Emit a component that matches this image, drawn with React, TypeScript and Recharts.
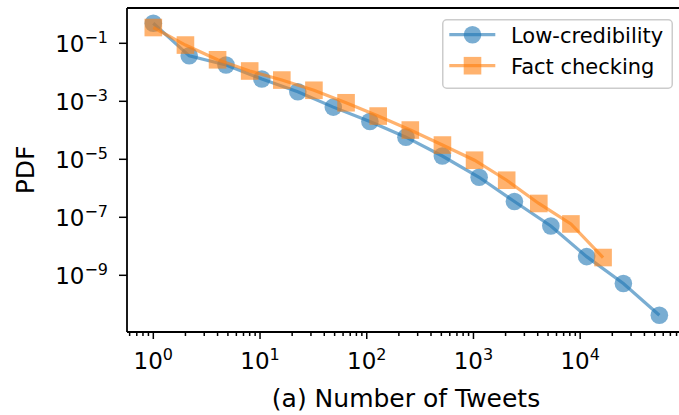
import React from "react";
import { ScatterChart, Scatter, XAxis, YAxis, Legend, ReferenceLine } from "recharts";

// ---- data ----
const lowCredX = [1, 2.17, 4.8, 10.4, 22.6, 48.6, 107, 233, 511, 1130, 2420, 5310, 11500, 25400, 55200];
const lowCredY = [0.49, 0.037, 0.0178, 0.0059, 0.00214, 6.3e-4, 2.0e-4, 5.8e-5, 1.3e-5, 2.4e-6, 3.5e-7, 5.0e-8, 4.4e-9, 5.2e-10, 4.2e-11];
const factX = [1, 2, 4, 8, 16, 32, 64, 128, 256, 512, 1024, 2048, 4096, 8192, 16384];
const factY = [0.35, 0.087, 0.027, 0.0111, 0.0054, 0.0024, 8.9e-4, 3.1e-4, 1.02e-4, 3.1e-5, 9.3e-6, 1.9e-6, 3.0e-7, 5.9e-8, 4.1e-9];

const seriesNames = ["Low-credibility", "Fact checking"];
const xMajorTicks = [1, 10, 100, 1000, 10000];
const xMinorTicks = [
  0.6, 0.7, 0.8, 0.9,
  2, 3, 4, 5, 6, 7, 8, 9,
  20, 30, 40, 50, 60, 70, 80, 90,
  200, 300, 400, 500, 600, 700, 800, 900,
  2000, 3000, 4000, 5000, 6000, 7000, 8000, 9000,
  20000, 30000, 40000, 50000, 60000, 70000, 80000, 90000,
];
const yTicks = [1e-1, 1e-3, 1e-5, 1e-7, 1e-9];
const xDomain = [0.5668, 96000];
const yDomain = [1.109e-11, 1.649];

const lowCredData = lowCredX.map((x, i) => ({ x, y: lowCredY[i] }));
const factData = factX.map((x, i) => ({ x, y: factY[i] }));

const BLUE = "#1f77b4";
const ORANGE = "#ff7f0e";
const FONT = "DejaVu Sans";
const MINUS = "\u2212";

const expLabel = (v: number) => {
  const e = Math.round(Math.log10(v));
  return e < 0 ? MINUS + Math.abs(e) : String(e);
};

const XTick = (props: any) => {
  const { x, y, payload } = props;
  const v = payload.value;
  const major = xMajorTicks.includes(v);
  return (
    <g>
      <line x1={x} x2={x} y1={y} y2={y + (major ? 7 : 4)} stroke="#000" strokeWidth={1.5} />
      {major && (
        <text x={x} y={y + 37} textAnchor="middle" fontSize={23} fontFamily={FONT} fill="#000">
          10
          <tspan dy={-9} fontSize={16}>{expLabel(v)}</tspan>
        </text>
      )}
    </g>
  );
};

const YTick = (props: any) => {
  const { x, y, payload } = props;
  return (
    <g>
      <line x1={x - 8} x2={x} y1={y} y2={y} stroke="#000" strokeWidth={1.5} />
      <text x={x - 19} y={y + 9} textAnchor="end" fontSize={23} fontFamily={FONT} fill="#000">
        10
        <tspan dy={-9} fontSize={16}>{expLabel(payload.value)}</tspan>
      </text>
    </g>
  );
};

const XLabel = (props: any) => {
  const vb = props.viewBox;
  return (
    <text x={vb.x + vb.width / 2} y={vb.y + 75} textAnchor="middle" fontSize={25} fontFamily={FONT} fill="#000">
      (a) Number of Tweets
    </text>
  );
};

const YLabel = (props: any) => {
  const vb = props.viewBox;
  const cx = 34;
  const cy = vb.y + vb.height / 2;
  return (
    <text x={cx} y={cy} transform={`rotate(-90 ${cx} ${cy})`} textAnchor="middle" fontSize={25} fontFamily={FONT} fill="#000">
      PDF
    </text>
  );
};

const circleShape = (props: any) => (
  <circle cx={props.cx} cy={props.cy} r={8.8} fill={BLUE} fillOpacity={0.6} />
);
const squareShape = (props: any) => (
  <rect x={props.cx - 8.8} y={props.cy - 8.8} width={17.6} height={17.6} fill={ORANGE} fillOpacity={0.6} />
);

const renderLegend = () => (
  <svg width={232} height={71} style={{ display: "block" }}>
    <rect x={0.75} y={0.75} width={229.5} height={68.5} rx={4} fill="#fff" fillOpacity={0.8} stroke="#cccccc" strokeWidth={1.5} />
    <line x1={7.3} x2={53.3} y1={15.7} y2={15.7} stroke={BLUE} strokeOpacity={0.6} strokeWidth={3.2} />
    <circle cx={30.5} cy={15.7} r={8.8} fill={BLUE} fillOpacity={0.6} />
    <text x={69} y={24} fontSize={21} fontFamily={FONT} fill="#000">{seriesNames[0]}</text>
    <line x1={7.3} x2={53.3} y1={46.7} y2={46.7} stroke={ORANGE} strokeOpacity={0.6} strokeWidth={3.2} />
    <rect x={30.5 - 8.8} y={46.7 - 8.8} width={17.6} height={17.6} fill={ORANGE} fillOpacity={0.6} />
    <text x={69} y={55} fontSize={21} fontFamily={FONT} fill="#000">{seriesNames[1]}</text>
  </svg>
);

export default function App() {
  return (
    <div style={{ position: "absolute", left: 0, top: 0, width: 679, height: 415, overflow: "hidden", background: "#fff", fontFamily: FONT }}>
      <ScatterChart width={686} height={415} margin={{ top: 8, right: 1, bottom: 0, left: 0 }}>
        <XAxis
          dataKey="x"
          type="number"
          scale="log"
          domain={xDomain}
          allowDataOverflow
          ticks={[...xMajorTicks, ...xMinorTicks]}
          interval={0}
          tick={<XTick />}
          tickLine={false}
          tickSize={0}
          tickMargin={0}
          axisLine={{ stroke: "#000", strokeWidth: 1.8 }}
          height={83}
          label={<XLabel />}
        />
        <YAxis
          dataKey="y"
          type="number"
          scale="log"
          domain={yDomain}
          allowDataOverflow
          ticks={yTicks}
          interval={0}
          tick={<YTick />}
          tickLine={false}
          tickSize={0}
          tickMargin={0}
          axisLine={{ stroke: "#000", strokeWidth: 1.8 }}
          width={127}
          label={<YLabel />}
        />
        <ReferenceLine y={yDomain[1]} stroke="#000" strokeWidth={1.8} />
        <Scatter
          name={seriesNames[0]}
          data={lowCredData}
          fill={BLUE}
          line={{ stroke: BLUE, strokeWidth: 3.2, strokeOpacity: 0.6 }}
          lineType="joint"
          lineJointType="linear"
          shape={circleShape}
          isAnimationActive={false}
        />
        <Scatter
          name={seriesNames[1]}
          data={factData}
          fill={ORANGE}
          line={{ stroke: ORANGE, strokeWidth: 3.2, strokeOpacity: 0.6 }}
          lineType="joint"
          lineJointType="linear"
          shape={squareShape}
          isAnimationActive={false}
        />
        <Legend
          layout="vertical"
          align="center"
          verticalAlign="middle"
          content={renderLegend}
          wrapperStyle={{ position: "absolute", left: 442, top: 18.5, width: 232, height: 71 }}
        />
      </ScatterChart>
    </div>
  );
}
